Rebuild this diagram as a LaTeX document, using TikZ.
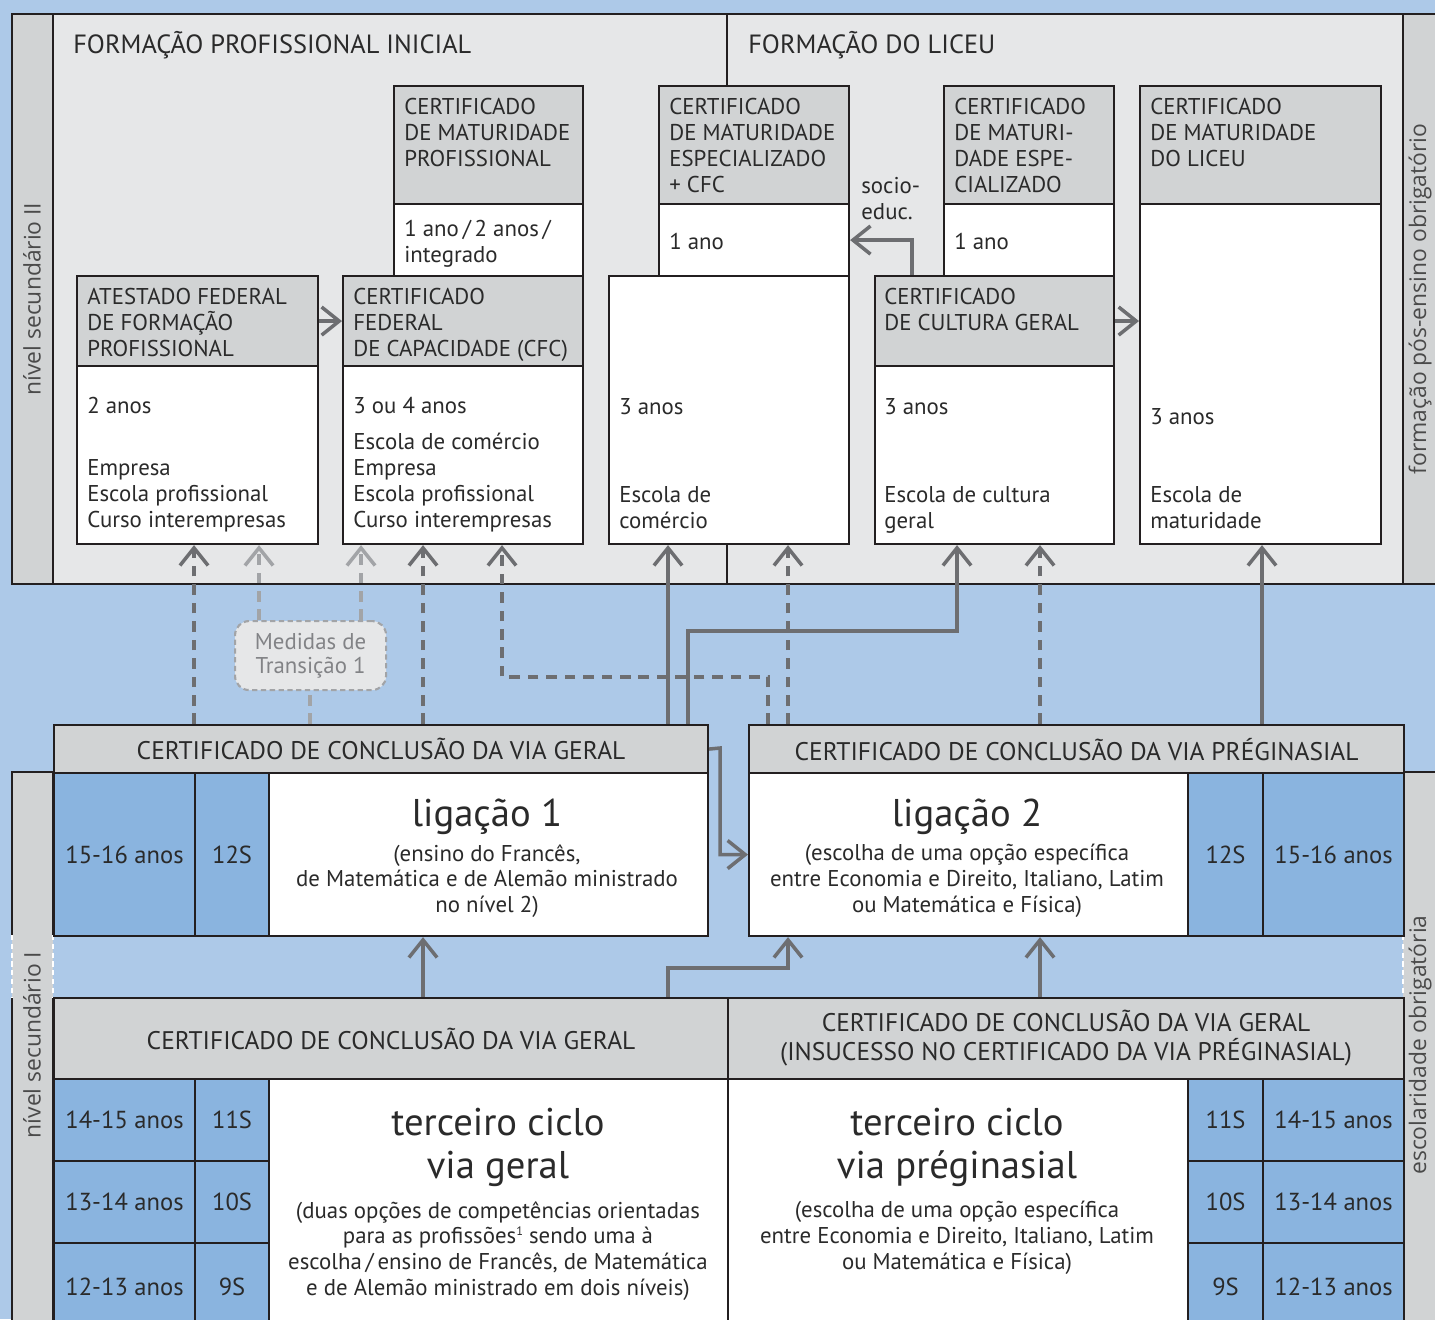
\documentclass[tikz,border=0pt]{standalone}
\usepackage{fontspec}
\setmainfont{PT Sans}
\newfontfamily\sidefont{Open Sans}
\usetikzlibrary{arrows.meta}

\definecolor{skyblue}{HTML}{ADC9E8}
\definecolor{panelgray}{HTML}{E6E7E8}
\definecolor{headgray}{HTML}{D1D3D4}
\definecolor{cellblue}{HTML}{8AB4DF}
\definecolor{linkgray}{HTML}{6D6E71}
\definecolor{palegray}{HTML}{A2A4A7}
\definecolor{edgeblack}{HTML}{231F20}
\definecolor{inkgray}{HTML}{2A2A2A}

\tikzset{
  frame/.style={draw=edgeblack, line width=1.2pt},
  txt/.style={font=\fontsize{13}{14.74}\selectfont, text=inkgray, inner sep=0pt, anchor=north west, align=left},
  ttl/.style={font=\fontsize{15}{17}\selectfont, text=inkgray, inner sep=0pt, anchor=west},
  captxt/.style={font=\fontsize{14.5}{16.5}\selectfont, text=inkgray},
  big/.style={font=\fontsize{22}{24.4}\selectfont, text=inkgray, inner sep=0pt, align=center},
  para/.style={font=\fontsize{13}{14.74}\selectfont, text=inkgray, inner sep=0pt, align=center, anchor=north},
  age/.style={font=\fontsize{14}{16}\selectfont, text=inkgray},
  side/.style={font=\sidefont\fontsize{13}{15}\selectfont, text=inkgray!85, rotate=90, inner sep=0pt},
  sz/.style 2 args={minimum width=#1*0.02cm, minimum height=#2*0.02cm},
  anybox/.style={frame, anchor=north west, inner sep=0pt},
  hdbox/.style={anybox, fill=headgray},
  whbox/.style={anybox, fill=white},
  blbox/.style={anybox, fill=cellblue, age},
  link/.style={draw=linkgray, line width=2pt, -{Straight Barb[length=10pt,width=16pt]}},
  dlink/.style={link, dash pattern=on 6pt off 4.5pt},
  plink/.style={dlink, draw=palegray},
}

\begin{document}
\begin{tikzpicture}[x=0.02cm, y=-0.02cm]
\useasboundingbox (0,0) rectangle (1435,1319);
\clip (0,0) rectangle (1435,1319);
\fill[skyblue] (0,0) rectangle (1435,1319);

% upper panel: nivel secundario II
\draw[frame, fill=panelgray] (12,14) rectangle (1460,584);
\draw[frame, fill=headgray] (12,14) rectangle (53,584);
\draw[frame, fill=headgray] (1403,14) rectangle (1460,584);
\draw[frame] (727,14) -- (727,584);
\node[ttl] (fpi) at (73,45) {FORMAÇÃO PROFISSIONAL INICIAL};
\node[ttl] (flc) at (748,45) {FORMAÇÃO DO LICEU};
\node[side] (ns2) at (32,299) {nível secundário II};
\node[side] (fpo) at (1420,299) {formação pós-ensino obrigatório};

% formacao profissional
\node[hdbox, sz={241}{90}] (afpH) at (76,275) {};
\node[whbox, sz={241}{178}] (afpB) at (76,365) {};
\node[hdbox, sz={240}{90}] (cfcH) at (342,275) {};
\node[whbox, sz={240}{178}] (cfcB) at (342,365) {};
\node[hdbox, sz={189}{118}] (mpH) at (393,85) {};
\node[whbox, sz={189}{72}] (mpB) at (393,203) {};
\node[txt] (afpHt) at (87,288) {ATESTADO FEDERAL\\DE FORMAÇÃO\\PROFISSIONAL};
\node[txt] (afpD) at (87,397) {2 anos};
\node[txt] (afpS) at (87,459) {Empresa\\Escola profissional\\Curso interempresas};
\node[txt] (cfcHt) at (353,288) {CERTIFICADO\\FEDERAL\\DE CAPACIDADE (CFC)};
\node[txt] (cfcD) at (353,397) {3 ou 4 anos};
\node[txt] (cfcS) at (353,433) {Escola de comércio\\Empresa\\Escola profissional\\Curso interempresas};
\node[txt] (mpHt) at (404,98) {CERTIFICADO\\DE MATURIDADE\\PROFISSIONAL};
\node[txt] (mpD) at (404,220) {1 ano\,/\,2 anos\,/\\integrado};

% formacao do liceu
\node[hdbox, sz={190}{118}] (meH) at (658,85) {};
\node[whbox, sz={190}{72}] (meB) at (658,203) {};
\node[whbox, sz={240}{268}] (ecB) at (608,275) {};
\node[hdbox, sz={170}{118}] (msH) at (943,85) {};
\node[whbox, sz={170}{72}] (msB) at (943,203) {};
\node[hdbox, sz={239}{90}] (cgH) at (874,275) {};
\node[whbox, sz={239}{178}] (cgB) at (874,365) {};
\node[hdbox, sz={241}{118}] (mlH) at (1139,85) {};
\node[whbox, sz={241}{340}] (mlB) at (1139,203) {};
\node[txt] (meHt) at (669,98) {CERTIFICADO\\DE MATURIDADE\\ESPECIALIZADO\\+ CFC};
\node[txt] (meD) at (669,233) {1 ano};
\node[txt] (ecD) at (619,398) {3 anos};
\node[txt] (ecS) at (619,486) {Escola de\\comércio};
\node[txt] (msHt) at (954,98) {CERTIFICADO\\DE MATURI-\\DADE ESPE-\\CIALIZADO};
\node[txt] (msD) at (954,233) {1 ano};
\node[txt] (cgHt) at (884,288) {CERTIFICADO\\DE CULTURA GERAL};
\node[txt] (cgD) at (884,398) {3 anos};
\node[txt] (cgS) at (884,486) {Escola de cultura\\geral};
\node[txt] (mlHt) at (1150,98) {CERTIFICADO\\DE MATURIDADE\\DO LICEU};
\node[txt] (mlD) at (1150,408) {3 anos};
\node[txt] (mlS) at (1150,486) {Escola de\\maturidade};
\node[txt] (socio) at (861,177) {socio-\\educ.};

\draw[link] (afpH.east) -- (cfcH.west);
\draw[link] (cgH.east) -- (cgH.east -| mlB.west);
\draw[link] (cgH.north -| 912,0) |- (meB.east);

% lower panel: nivel secundario I
\fill[headgray] (12,772) rectangle (53,1330);
\fill[headgray] (1403,772) rectangle (1460,1330);
\draw[frame] (12,1330) -- (12,997) (12,935) -- (12,772) -- (53,772) -- (53,935);
\draw[frame] (53,997) -- (53,1330);
\draw[frame] (1403,1330) -- (1403,997) (1403,935) -- (1403,772) -- (1460,772);
\draw[white, line width=1.2pt, dash pattern=on 3pt off 2pt] (12,935) -- (12,997) (53,935) -- (53,997) (1403,935) -- (1403,997);
\node[side] (ns1) at (32,1045) {nível secundário I};
\node[side] (eob) at (1420,1045) {escolaridade obrigatória};

\node[hdbox, sz={654}{48}, captxt] (vgC) at (53,724) {CERTIFICADO DE CONCLUSÃO DA VIA GERAL};
\node[hdbox, sz={655}{48}, captxt] (pgC) at (748,724) {CERTIFICADO DE CONCLUSÃO DA VIA PRÉGINASIAL};

\node[blbox, sz={141}{163}] (a16L) at (53,772) {15-16 anos};
\node[blbox, sz={74}{163}] (g12L) at (194,772) {12S};
\node[whbox, sz={439}{163}] (lig1) at (268,772) {};
\node[whbox, sz={439}{163}] (lig2) at (748,772) {};
\node[blbox, sz={75}{163}] (g12R) at (1187,772) {12S};
\node[blbox, sz={141}{163}] (a16R) at (1262,772) {15-16 anos};
\node[big, anchor=base] (lig1t) at (487,826) {ligação 1};
\node[para] (lig1p) at (487,844) {(ensino do Francês,\\de Matemática e de Alemão ministrado\\no nível 2)};
\node[big, anchor=base] (lig2t) at (967,826) {ligação 2};
\node[para] (lig2p) at (967,844) {(escolha de uma opção específica\\entre Economia e Direito, Italiano, Latim\\ou Matemática e Física)};

\node[hdbox, sz={674}{81}, captxt] (vgR) at (53,997) {CERTIFICADO DE CONCLUSÃO DA VIA GERAL};
\node[hdbox, sz={676}{81}, captxt, align=center] (inR) at (727,997) {CERTIFICADO DE CONCLUSÃO DA VIA GERAL\\(INSUCESSO NO CERTIFICADO DA VIA PRÉGINASIAL)};

\node[blbox, sz={141}{82}] (a15L) at (53,1078) {14-15 anos};
\node[blbox, sz={74}{82}] (g11L) at (194,1078) {11S};
\node[blbox, sz={141}{82}] (a14L) at (53,1160) {13-14 anos};
\node[blbox, sz={74}{82}] (g10L) at (194,1160) {10S};
\node[blbox, sz={141}{88}] (a13L) at (53,1242) {12-13 anos};
\node[blbox, sz={74}{88}] (g9L) at (194,1242) {9S};
\node[whbox, sz={459}{252}] (tcg) at (268,1078) {};
\node[whbox, sz={460}{252}] (tcp) at (727,1078) {};
\node[blbox, sz={75}{82}] (g11R) at (1187,1078) {11S};
\node[blbox, sz={141}{82}] (a15R) at (1262,1078) {14-15 anos};
\node[blbox, sz={75}{82}] (g10R) at (1187,1160) {10S};
\node[blbox, sz={141}{82}] (a14R) at (1262,1160) {13-14 anos};
\node[blbox, sz={75}{88}] (g9R) at (1187,1242) {9S};
\node[blbox, sz={141}{88}] (a13R) at (1262,1242) {12-13 anos};
\node[big, anchor=north] (tcgt) at (498,1108) {terceiro ciclo\\via geral};
\node[para] (tcgp) at (498,1201) {(duas opções de competências orientadas\\para as profissões\raisebox{5pt}{\fontsize{7}{8}\selectfont 1} sendo uma à\\escolha\,/\,ensino de Francês, de Matemática\\e de Alemão ministrado em dois níveis)};
\node[big, anchor=north] (tcpt) at (957,1108) {terceiro ciclo\\via préginasial};
\node[para] (tcpp) at (957,1201) {(escolha de uma opção específica\\entre Economia e Direito, Italiano, Latim\\ou Matemática e Física)};

% transicao
\node[anybox, draw=palegray, dash pattern=on 3pt off 2pt, rounded corners=8pt, fill=panelgray, sz={151}{69}, align=center, font=\fontsize{13}{13.6}\selectfont, text=palegray!80!black] (med) at (234,620) {Medidas de\\Transição 1};

% connectors
\draw[dlink] (vgC.north -| 194,0) -- (afpB.south -| 194,0);
\draw[plink] (med.north -| 259,0) -- (afpB.south -| 259,0);
\draw[plink] (med.north -| 361,0) -- (cfcB.south -| 361,0);
\draw[plink, -] (vgC.north -| 310,0) -- (med.south -| 310,0);
\draw[dlink] (vgC.north -| 423,0) -- (cfcB.south -| 423,0);
\draw[dlink] (pgC.north -| 768,0) -- (768,677) -- (502,677) -- (cfcB.south -| 502,0);
\draw[dlink] (pgC.north -| 788,0) -- (ecB.south -| 788,0);
\draw[dlink] (pgC.north -| 1040,0) -- (cgB.south -| 1040,0);
\draw[link] (vgC.north -| 668,0) -- (ecB.south -| 668,0);
\draw[link] (vgC.north -| 688,0) -- (688,631) -- (957,631) -- (cgB.south -| 957,0);
\draw[link] (pgC.north -| 1262,0) -- (mlB.south -| 1262,0);
\draw[link] (vgC.east) -- (720,748) |- (lig2.west);
\draw[link] (vgR.north -| 423,0) -- (lig1.south -| 423,0);
\draw[link] (vgR.north -| 668,0) -- (668,968) -- (788,968) -- (lig2.south -| 788,0);
\draw[link] (inR.north -| 1040,0) -- (lig2.south -| 1040,0);
\end{tikzpicture}
\end{document}
